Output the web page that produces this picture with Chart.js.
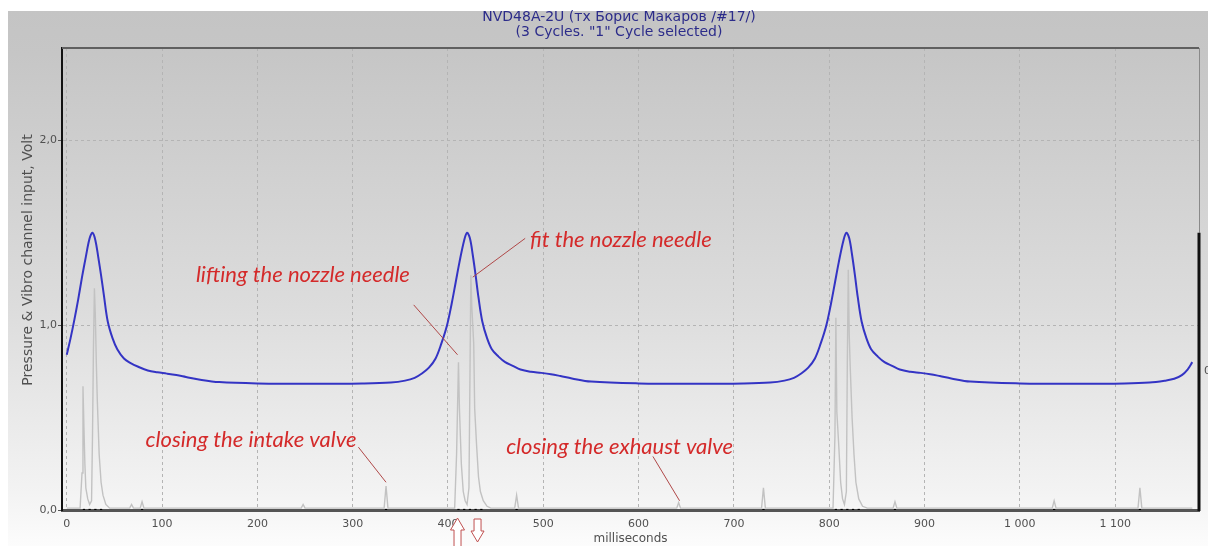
<!DOCTYPE html>
<html>
<head>
<meta charset="utf-8">
<script src="https://cdn.jsdelivr.net/npm/chart.js@4/dist/chart.umd.min.js"></script>
<style>
  html, body { margin: 0; padding: 0; background: #fff; }
  #wrap { width: 1208px; height: 546px; }
</style>
</head>
<body>
<div id="wrap"><canvas id="chart" width="1208" height="546"></canvas></div>
<script>
// pressure curve (blue), ms / volt
const pressureMs = [0, 4, 8, 12, 16, 20, 24, 27, 30, 33, 36, 39, 43, 48, 53, 60, 67, 75, 85, 95, 105, 115, 125, 140, 160, 200, 260, 310, 340, 355, 365, 373, 380, 387, 393, 399, 404, 408, 412, 417, 420, 423, 426, 429, 432, 436, 441, 446, 453, 460, 468, 476, 487, 498, 508, 518, 530, 550, 600, 660, 710, 738, 753, 763, 771, 778, 785, 791, 797, 802, 806, 810, 815, 818, 821, 824, 827, 830, 834, 839, 844, 851, 858, 866, 874, 885, 896, 906, 916, 928, 948, 1000, 1060, 1110, 1136, 1152, 1162, 1170, 1176, 1181];
const pressureV = [0.84, 0.93, 1.03, 1.14, 1.26, 1.37, 1.47, 1.50, 1.46, 1.37, 1.27, 1.16, 1.02, 0.93, 0.87, 0.82, 0.795, 0.775, 0.755, 0.745, 0.738, 0.73, 0.72, 0.705, 0.692, 0.685, 0.683, 0.685, 0.69, 0.70, 0.715, 0.74, 0.77, 0.82, 0.90, 1.00, 1.12, 1.23, 1.34, 1.46, 1.50, 1.47, 1.38, 1.27, 1.15, 1.02, 0.93, 0.87, 0.83, 0.80, 0.78, 0.76, 0.748, 0.742, 0.735, 0.725, 0.712, 0.695, 0.685, 0.683, 0.685, 0.69, 0.70, 0.715, 0.74, 0.77, 0.82, 0.90, 1.00, 1.12, 1.23, 1.34, 1.46, 1.50, 1.47, 1.38, 1.27, 1.15, 1.02, 0.93, 0.87, 0.83, 0.80, 0.78, 0.76, 0.748, 0.742, 0.735, 0.725, 0.712, 0.695, 0.685, 0.683, 0.685, 0.69, 0.70, 0.71, 0.73, 0.76, 0.80];

// vibro channel (gray)
const vibroMs = [0, 14, 16, 17, 18, 19, 20, 22, 24, 26, 27, 28, 29, 30, 31, 32, 33, 34, 36, 38, 41, 45, 66, 68, 70, 77, 79, 81, 246, 248, 250, 333, 335, 337, 407, 409, 411, 412, 414, 416, 418, 420, 422, 423, 424, 425, 427, 428, 430, 432, 434, 437, 441, 445, 470, 472, 474, 640, 642, 644, 729, 731, 733, 804, 806, 807, 808, 810, 812, 814, 816, 818, 819, 820, 821, 822, 824, 826, 828, 831, 835, 840, 867, 869, 871, 1034, 1036, 1038, 1124, 1126, 1128, 1181];
const vibroV = [0.01, 0.01, 0.20, 0.67, 0.45, 0.25, 0.12, 0.06, 0.03, 0.05, 0.40, 0.88, 1.20, 1.05, 0.80, 0.60, 0.45, 0.30, 0.15, 0.08, 0.03, 0.01, 0.01, 0.03, 0.01, 0.01, 0.045, 0.01, 0.01, 0.03, 0.01, 0.01, 0.13, 0.01, 0.01, 0.30, 0.80, 0.55, 0.25, 0.10, 0.05, 0.03, 0.12, 0.70, 1.27, 1.10, 0.90, 0.55, 0.35, 0.18, 0.10, 0.05, 0.02, 0.01, 0.01, 0.08, 0.01, 0.01, 0.04, 0.01, 0.01, 0.12, 0.01, 0.01, 0.40, 1.04, 0.53, 0.35, 0.15, 0.06, 0.03, 0.10, 0.80, 1.30, 0.95, 0.78, 0.50, 0.30, 0.15, 0.06, 0.02, 0.01, 0.01, 0.045, 0.01, 0.01, 0.05, 0.01, 0.01, 0.12, 0.01, 0.01];

// event marks on the time axis
const eventMs = [18, 24, 30, 36, 79, 335, 411, 417, 423, 429, 435, 472, 731, 807, 813, 819, 825, 831, 869, 1036, 1126];

const xTicks = [0, 100, 200, 300, 400, 500, 600, 700, 800, 900, 1000, 1100];
const yTicks = [0, 1, 2];

const titleLines = ['NVD48A-2U (тх Борис Макаров /#17/)', '(3 Cycles. "1" Cycle selected)'];
const yTitle = 'Pressure & Vibro channel input, Volt';
const xTitle = 'milliseconds';

// notes: text, anchor (ms, volt), align, pointer from -> to (ms, volt)
const notes = [
  { text: 'lifting the nozzle needle', x: 360, y: 1.27, align: 'right', from: [364, 1.11], to: [410, 0.84] },
  { text: 'fit the nozzle needle', x: 486, y: 1.46, align: 'left', from: [481, 1.47], to: [426, 1.26] },
  { text: 'closing the intake valve', x: 304, y: 0.38, align: 'right', from: [306, 0.34], to: [335, 0.15] },
  { text: 'closing the exhaust valve', x: 461, y: 0.34, align: 'left', from: [615, 0.29], to: [643, 0.05] }
];
const arrowMs = [410, 431];

const fmtX = v => String(v).replace(/\B(?=(\d{3})+(?!\d))/g, ' ');
const fmtY = v => v.toFixed(1).replace('.', ',');

const bgPlugin = {
  id: 'bg',
  beforeDraw(chart) {
    const c = chart.ctx;
    c.save();
    c.fillStyle = '#ffffff';
    c.fillRect(0, 0, chart.width, chart.height);
    const g = c.createLinearGradient(0, 11, 0, chart.height);
    g.addColorStop(0, '#c4c4c4');
    g.addColorStop(0.08, '#c6c6c6');
    g.addColorStop(0.55, '#dcdcdc');
    g.addColorStop(0.9, '#f3f3f3');
    g.addColorStop(1, '#fcfcfc');
    c.fillStyle = g;
    c.fillRect(8, 11, chart.width - 8, chart.height - 11);
    c.restore();
  }
};

const decoPlugin = {
  id: 'deco',
  afterDraw(chart) {
    const c = chart.ctx;
    const a = chart.chartArea;
    const xs = chart.scales.x, ys = chart.scales.y;
    c.save();

    // top and right frame
    c.strokeStyle = '#606060';
    c.lineWidth = 2;
    c.beginPath();
    c.moveTo(a.left, a.top);
    c.lineTo(a.right, a.top);
    c.stroke();
    c.lineWidth = 1;
    c.strokeStyle = '#8a8a8a';
    c.beginPath();
    c.moveTo(a.right + 0.5, a.top);
    c.lineTo(a.right + 0.5, ys.getPixelForValue(1.5));
    c.stroke();
    c.strokeStyle = '#111';
    c.lineWidth = 3;
    c.beginPath();
    c.moveTo(a.right, ys.getPixelForValue(1.5));
    c.lineTo(a.right, a.bottom + 1);
    c.stroke();

    // titles
    c.fillStyle = '#2c2c8a';
    c.font = '14px "DejaVu Sans"';
    c.textAlign = 'center';
    c.textBaseline = 'middle';
    c.fillText(titleLines[0], 619, 17);
    c.fillText(titleLines[1], 619, 32);

    c.fillStyle = '#505050';
    c.font = '14px "DejaVu Sans"';
    c.save();
    c.translate(28, 260);
    c.rotate(-Math.PI / 2);
    c.fillText(yTitle, 0, 0);
    c.restore();

    c.font = '11px "DejaVu Sans"';
    c.textAlign = 'left';
    c.fillText('0', a.right + 5, ys.getPixelForValue(0.75));

    // notes
    c.font = 'italic 22px Lato, "Open Sans", sans-serif';
    c.fillStyle = '#d42a2a';
    c.strokeStyle = '#b04848';
    c.lineWidth = 1;
    notes.forEach(n => {
      c.textAlign = n.align;
      c.fillText(n.text, xs.getPixelForValue(n.x), ys.getPixelForValue(n.y));
      c.beginPath();
      c.moveTo(xs.getPixelForValue(n.from[0]), ys.getPixelForValue(n.from[1]));
      c.lineTo(xs.getPixelForValue(n.to[0]), ys.getPixelForValue(n.to[1]));
      c.stroke();
    });

    // up / down arrows under the axis
    c.fillStyle = '#ffffff';
    c.strokeStyle = '#c05050';
    const b = a.bottom;
    const up = xs.getPixelForValue(arrowMs[0]);
    c.beginPath();
    c.moveTo(up, b + 8);
    c.lineTo(up + 7, b + 20);
    c.lineTo(up + 3.5, b + 20);
    c.lineTo(up + 3.5, chart.height + 2);
    c.lineTo(up - 3.5, chart.height + 2);
    c.lineTo(up - 3.5, b + 20);
    c.lineTo(up - 7, b + 20);
    c.closePath();
    c.fill();
    c.stroke();
    const dn = xs.getPixelForValue(arrowMs[1]);
    c.beginPath();
    c.moveTo(dn - 3.5, b + 9);
    c.lineTo(dn + 3.5, b + 9);
    c.lineTo(dn + 3.5, b + 21);
    c.lineTo(dn + 6.5, b + 21);
    c.lineTo(dn, b + 32);
    c.lineTo(dn - 6.5, b + 21);
    c.lineTo(dn - 3.5, b + 21);
    c.closePath();
    c.fill();
    c.stroke();

    c.restore();
  }
};

const gridColor = ctx => (ctx.tick && ctx.tick.value === 0 && ctx.scale.axis === 'y') ? 'rgba(0,0,0,0)' : '#b4b4b4';

new Chart(document.getElementById('chart'), {
  type: 'line',
  data: {
    datasets: [
      {
        label: 'Pressure',
        data: pressureMs.map((x, i) => ({ x, y: pressureV[i] })),
        borderColor: '#3434c4',
        borderWidth: 2,
        pointRadius: 0,
        tension: 0.35
      },
      {
        label: 'Events',
        data: eventMs.map(x => ({ x, y: 0 })),
        showLine: false,
        pointStyle: 'rect',
        pointRadius: 1.6,
        pointBackgroundColor: '#000',
        pointBorderWidth: 0
      },
      {
        label: 'Vibro',
        data: vibroMs.map((x, i) => ({ x, y: vibroV[i] })),
        borderColor: '#c2c2c2',
        borderWidth: 1.4,
        pointRadius: 0,
        tension: 0
      }
    ]
  },
  options: {
    responsive: false,
    animation: false,
    devicePixelRatio: 1,
    layout: { padding: { left: 0, right: 9, top: 48, bottom: 0 } },
    plugins: {
      legend: { display: false },
      tooltip: { enabled: false }
    },
    scales: {
      x: {
        type: 'linear',
        min: -5,
        max: 1188,
        afterBuildTicks: s => { s.ticks = xTicks.map(v => ({ value: v })); },
        afterFit: s => { s.height = 36; },
        ticks: {
          callback: v => fmtX(v),
          color: '#505050',
          font: { family: 'DejaVu Sans', size: 11 },
          padding: 8,
          maxRotation: 0
        },
        grid: { color: gridColor, lineWidth: 1, drawTicks: false },
        border: { color: '#555', width: 3, dash: [3, 3] },
        title: {
          display: true,
          text: xTitle,
          color: '#505050',
          font: { family: 'DejaVu Sans', size: 12 },
          padding: { top: 0, bottom: 0 }
        }
      },
      y: {
        min: 0,
        max: 2.5,
        afterBuildTicks: s => { s.ticks = yTicks.map(v => ({ value: v })); },
        afterFit: s => { s.width = 62; },
        ticks: {
          callback: v => fmtY(v),
          color: '#505050',
          font: { family: 'DejaVu Sans', size: 11 },
          padding: 1
        },
        grid: { color: gridColor, lineWidth: 1, tickLength: 4, tickColor: '#555' },
        border: { color: '#111', width: 2, dash: [3, 3] }
      }
    }
  },
  plugins: [bgPlugin, decoPlugin]
});
</script>
</body>
</html>
